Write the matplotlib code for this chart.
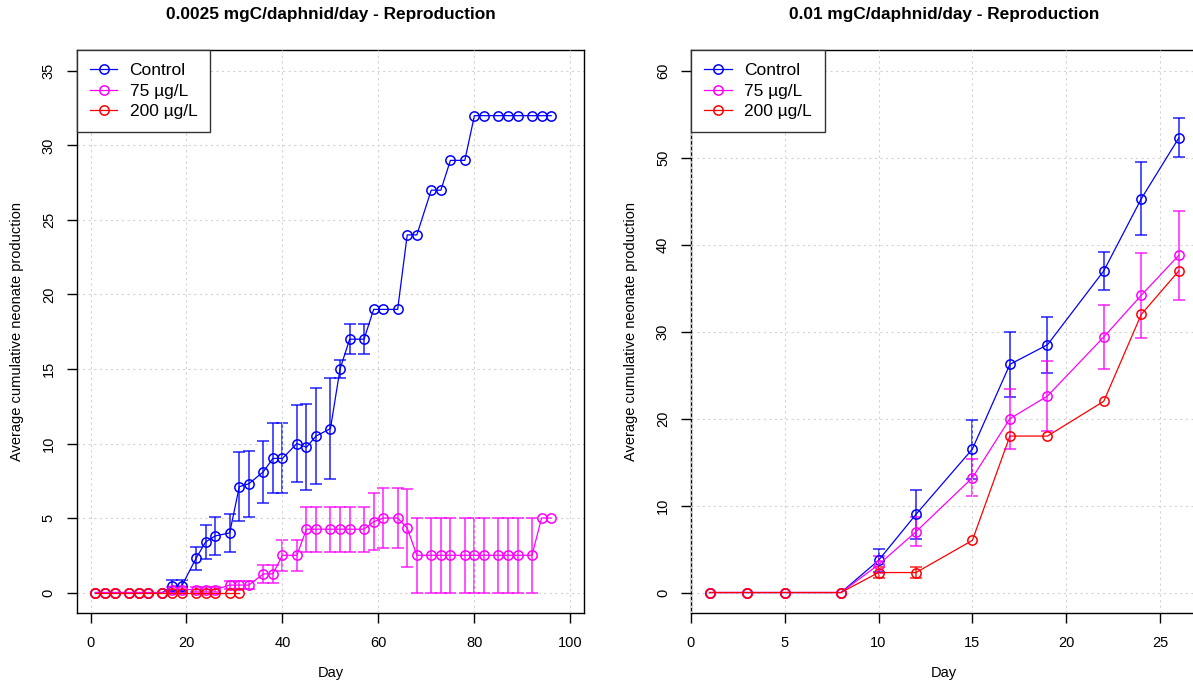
import numpy as np
import matplotlib
matplotlib.use('Agg')
import matplotlib.pyplot as plt

plt.rcParams['font.family'] = ['Liberation Sans', 'DejaVu Sans']

###############################################################################
# Data: 0.0025 mgC/daphnid/day
###############################################################################
days_lo = [1, 3, 5, 8, 10, 12, 15, 17, 19, 22, 24, 26, 29, 31, 33, 36, 38, 40,
           43, 45, 47, 50, 52, 54, 57, 59, 61, 64, 66, 68, 71, 73, 75, 78, 80,
           82, 85, 87, 89, 92, 94, 96]
ctrl_lo = [0, 0, 0, 0, 0, 0, 0, 0.43, 0.43, 2.3, 3.4, 3.8, 4.0, 7.1, 7.3, 8.1,
           9.0, 9.0, 10.0, 9.75, 10.5, 11.0, 15, 17, 17, 19, 19, 19, 24, 24,
           27, 27, 29, 29, 32, 32, 32, 32, 32, 32, 32, 32]
ctrl_lo_err = [0, 0, 0, 0, 0, 0, 0, 0.4, 0.4, 0.78, 1.13, 1.27, 1.3, 2.3, 2.2,
               2.1, 2.35, 2.35, 2.6, 2.9, 3.2, 3.4, 0.6, 1.0, 1.0, 0, 0, 0, 0,
               0, 0, 0, 0, 0, 0, 0, 0, 0, 0, 0, 0, 0]
c75_lo = [0, 0, 0, 0, 0, 0, 0, 0.2, 0.2, 0.2, 0.2, 0.2, 0.5, 0.5, 0.5, 1.25,
          1.25, 2.5, 2.5, 4.25, 4.25, 4.25, 4.25, 4.25, 4.25, 4.75, 5, 5, 4.33,
          2.5, 2.5, 2.5, 2.5, 2.5, 2.5, 2.5, 2.5, 2.5, 2.5, 2.5, 5, 5]
c75_lo_err = [0, 0, 0, 0, 0, 0, 0, 0.17, 0.17, 0.17, 0.17, 0.17, 0.25, 0.25,
              0.25, 0.63, 0.63, 1.05, 1.05, 1.5, 1.5, 1.5, 1.5, 1.5, 1.5, 1.9,
              2.0, 2.0, 2.6, 2.5, 2.5, 2.5, 2.5, 2.5, 2.5, 2.5, 2.5, 2.5, 2.5,
              2.5, 0, 0]
days_lo_200 = [1, 3, 5, 8, 10, 12, 15, 17, 19, 22, 24, 26, 29, 31]
c200_lo = [0, 0, 0, 0, 0, 0, 0, 0, 0, 0, 0, 0, 0, 0]
c200_lo_err = [0, 0, 0, 0, 0, 0, 0, 0, 0, 0, 0, 0, 0, 0]

###############################################################################
# Data: 0.01 mgC/daphnid/day
###############################################################################
days_hi = [1, 3, 5, 8, 10, 12, 15, 17, 19, 22, 24, 26]
ctrl_hi = [0, 0, 0, 0, 3.7, 9.0, 16.5, 26.25, 28.5, 37.0, 45.3, 52.3]
ctrl_hi_err = [0, 0, 0, 0, 1.35, 2.8, 3.4, 3.7, 3.2, 2.2, 4.2, 2.25]
c75_hi = [0, 0, 0, 0, 3.2, 7.0, 13.2, 20.0, 22.6, 29.4, 34.2, 38.8]
c75_hi_err = [0, 0, 0, 0, 1.0, 1.65, 2.15, 3.45, 4.05, 3.65, 4.9, 5.1]
c200_hi = [0, 0, 0, 0, 2.3, 2.3, 6.0, 18.0, 18.0, 22.0, 32.0, 37.0]
c200_hi_err = [0, 0, 0, 0, 0.6, 0.6, 0, 0, 0, 0, 0, 0]

labels = ['Control', '75 \u00b5g/L', '200 \u00b5g/L']
colors = ['#0000FF', '#FF00FF', '#FF0000']

###############################################################################
# Helpers
###############################################################################
W, H = 1193, 685
GRID = dict(color='#D3D3D3', linestyle=(0, (2, 3)), linewidth=0.8)


def draw_series(ax, x, y, err, color, label):
    (x, y, err) = (np.asarray(x), np.asarray(y), np.asarray(err))
    m = err > 0
    if m.any():
        ax.errorbar(x[m], y[m], yerr=err[m], fmt='none', ecolor=color,
                    alpha=0.8, elinewidth=1.2, capsize=4.5, capthick=1.2,
                    zorder=3)
    (line, ) = ax.plot(x, y, '-o', color=color, lw=0.9, ms=6.7, mfc='none',
                       mew=1.1, label=label, zorder=4)
    return line


def style_axes(ax, xlim, ylim, xticks, yticks):
    ax.set_xlim(xlim)
    ax.set_ylim(ylim)
    ax.set_xticks(xticks)
    ax.set_yticks(yticks)
    for t in xticks:
        ax.axvline(t, zorder=3, **GRID)
    for t in yticks:
        ax.axhline(t, zorder=1, **GRID)
    for s in ax.spines.values():
        s.set_linewidth(1.0)
    ax.tick_params(direction='out', length=7, width=1, labelsize=10.5,
                   pad=9, colors='black')
    ax.tick_params(axis='y', labelrotation=90, pad=8)
    for lbl in ax.get_yticklabels():
        lbl.set_va('center')


def add_legend(ax, handles):
    leg = ax.legend(handles=handles, loc='upper left', bbox_to_anchor=(0, 1),
                    borderaxespad=0, fontsize=12.5, frameon=True,
                    fancybox=False, framealpha=1, edgecolor='#333333',
                    handlelength=1.6, handletextpad=0.7, borderpad=0.75,
                    labelspacing=0.3)
    leg.get_frame().set_linewidth(1.0)
    leg.set_zorder(5)


###############################################################################
# Figure
###############################################################################
fig = plt.figure(figsize=(W / 100, H / 100), dpi=100)
(bot, top) = (613.4, 50.1)
axL = fig.add_axes([76.6 / W, 1 - bot / H, (584.3 - 76.6) / W, (bot - top) / H])
axR = fig.add_axes([690.8 / W, 1 - bot / H, (1197.6 - 690.8) / W, (bot - top) / H])

# Left panel -------------------------------------------------------------------
hL = [
    draw_series(axL, days_lo, ctrl_lo, ctrl_lo_err, colors[0], labels[0]),
    draw_series(axL, days_lo, c75_lo, c75_lo_err, colors[1], labels[1]),
    draw_series(axL, days_lo_200, c200_lo, c200_lo_err, colors[2], labels[2]),
]
style_axes(axL, (-2.9, 102.9), (-1.4, 36.4), range(0, 101, 20), range(0, 36, 5))
add_legend(axL, hL)

# Right panel ------------------------------------------------------------------
hR = [
    draw_series(axR, days_hi, ctrl_hi, ctrl_hi_err, colors[0], labels[0]),
    draw_series(axR, days_hi, c75_hi, c75_hi_err, colors[1], labels[1]),
    draw_series(axR, days_hi, c200_hi, c200_hi_err, colors[2], labels[2]),
]
style_axes(axR, (0, 27), (-2.4, 62.4), range(0, 26, 5), range(0, 61, 10))
add_legend(axR, hR)

# Titles and axis labels -------------------------------------------------------
for (ax, title, ylx) in [
    (axL, '0.0025 mgC/daphnid/day - Reproduction', 17),
    (axR, '0.01 mgC/daphnid/day - Reproduction', 631),
]:
    pos = ax.get_position()
    cx = (pos.x0 + pos.x1) / 2
    fig.text(cx, 1 - 14 / H, title, ha='center', va='center', fontsize=12.4,
             fontweight='bold')
    fig.text(cx, 1 - 673 / H, 'Day', ha='center', va='center', fontsize=10.5)
    fig.text(ylx / W, 1 - (bot + top) / 2 / H,
             'Average cumulative neonate production', ha='center',
             va='center', rotation=90, fontsize=10.5)

fig.savefig('out.png', dpi=100)
